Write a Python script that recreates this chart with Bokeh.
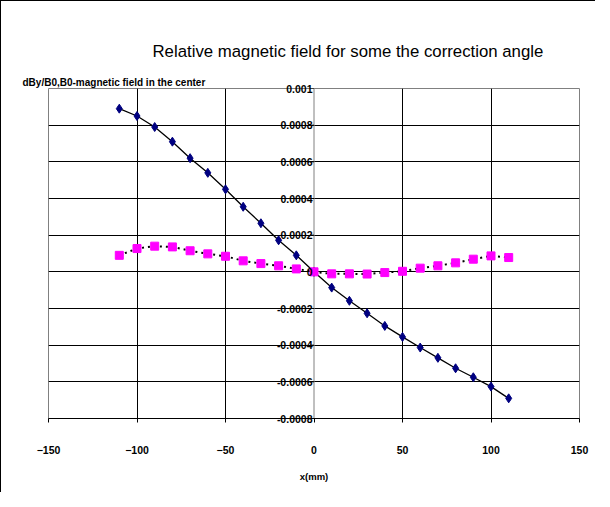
import math
from bokeh.plotting import figure
from bokeh.models import FixedTicker, Title, Span
from bokeh.embed import file_html
from bokeh.resources import INLINE

# ---- data ----
x_mm = [-110, -100, -90, -80, -70, -60, -50, -40, -30, -20, -10, 0,
        10, 20, 30, 40, 50, 60, 70, 80, 90, 100, 110]
series_blue = [0.00089, 0.00085, 0.00079, 0.00071, 0.00062, 0.00054, 0.00045,
               0.000355, 0.000265, 0.000172, 0.00009, 0.0,
               -0.000086, -0.000158, -0.000226, -0.000295, -0.000355, -0.000413,
               -0.000469, -0.000526, -0.000575, -0.000626, -0.00069]
series_pink = [0.00009, 0.000127, 0.00014, 0.000136, 0.000115, 0.000098, 0.000085,
               0.00006, 0.000045, 0.000033, 0.000016, 0.0,
               -0.000011, -0.000011, -0.000012, -0.000004, 0.000003, 0.00002,
               0.000033, 0.000049, 0.000069, 0.000087, 0.000078]
x_ticks = [-150, -100, -50, 0, 50, 100, 150]
y_ticks = [0.001, 0.0008, 0.0006, 0.0004, 0.0002, 0, -0.0002, -0.0004, -0.0006, -0.0008]
y_tick_labels = ["0.001", "0.0008", "0.0006", "0.0004", "0.0002", "0",
                 "-0.0002", "-0.0004", "-0.0006", "-0.0008"]
title_text = "Relative magnetic field for some the correction angle"
y_title = "dBy/B0,B0-magnetic field in the center"
x_title = "x(mm)"
y_axis_cross = 0

p = figure(frame_width=531, frame_height=330,
           x_range=(-150, 150), y_range=(-0.0008, 0.001),
           output_backend="svg", toolbar_location=None, title_location=None,
           min_border_left=47, min_border_right=16,
           min_border_top=87, min_border_bottom=74)
p.styles = {"border-left": "1px solid #000000", "border-top": "1px solid #000000"}
p.background_fill_color = "white"
p.border_fill_color = "white"
p.outline_line_color = "#808080"
p.outline_line_width = 1

# grid
p.xgrid.ticker = FixedTicker(ticks=[t for t in x_ticks[1:-1] if t != y_axis_cross])
p.ygrid.ticker = FixedTicker(ticks=y_ticks[1:-1])
p.grid.grid_line_color = "#000000"
p.grid.grid_line_width = 1
p.grid.grid_line_alpha = 1.0

# x axis
xa = p.xaxis[0]
xa.ticker = FixedTicker(ticks=x_ticks)
xa.axis_line_color = "#000000"
xa.major_tick_line_color = "#000000"
xa.major_tick_out = 4
xa.major_tick_in = 0
xa.minor_tick_line_color = None
xa.major_label_standoff = 23
xa.major_label_text_font = "Liberation Sans"
xa.major_label_text_font_style = "bold"
xa.major_label_text_font_size = "10.5px"
xa.major_label_text_color = "#000000"
xa.axis_label = x_title
xa.axis_label_text_font = "Liberation Sans"
xa.axis_label_text_font_style = "bold"
xa.axis_label_text_font_size = "9.5px"
xa.axis_label_text_color = "#000000"
xa.axis_label_standoff = 14

# y axis: labels shifted next to x = 0 (Excel axis crossing)
ya = p.yaxis[0]
ya.ticker = FixedTicker(ticks=y_ticks)
ya.major_label_overrides = dict(zip(y_ticks, y_tick_labels))
ya.axis_line_color = None
ya.major_tick_line_color = None
ya.major_tick_out = 0
ya.major_tick_in = 0
ya.minor_tick_line_color = None
ya.major_label_standoff = -264
ya.major_label_text_font = "Liberation Sans"
ya.major_label_text_font_style = "bold"
ya.major_label_text_font_size = "10.5px"
ya.major_label_text_color = "#000000"

# axis line and ticks at the crossing x = 0
p.add_layout(Span(location=y_axis_cross, dimension="height",
                  line_color="#808080", line_width=1, level="underlay"))
p.ray(x=[y_axis_cross] * len(y_ticks), y=y_ticks, length=4, length_units="screen",
      angle=math.pi, line_color="#000000", line_width=1)

# series
p.line(x_mm, series_blue, line_color="#000000", line_width=1.3)
p.scatter(x_mm, series_blue, marker="diamond", size=9,
          fill_color="#000080", line_color="#000080")
p.line(x_mm, series_pink, line_color="#000000", line_width=2, line_dash="2 4")
p.scatter(x_mm, series_pink, marker="square", size=8,
          fill_color="#FF00FF", line_color="#FF00FF")

# titles (first added is closest to the frame)
p.add_layout(Title(text=y_title, align="left", offset=-26, standoff=1,
                   text_font="Liberation Sans", text_font_style="bold",
                   text_font_size="10px", text_color="#000000"), "above")
p.add_layout(Title(text=title_text, align="left", offset=104, standoff=27,
                   text_font="Liberation Sans", text_font_style="normal",
                   text_font_size="16.8px", text_color="#000000"), "above")

open("out.html", "w").write(file_html(p, INLINE))
